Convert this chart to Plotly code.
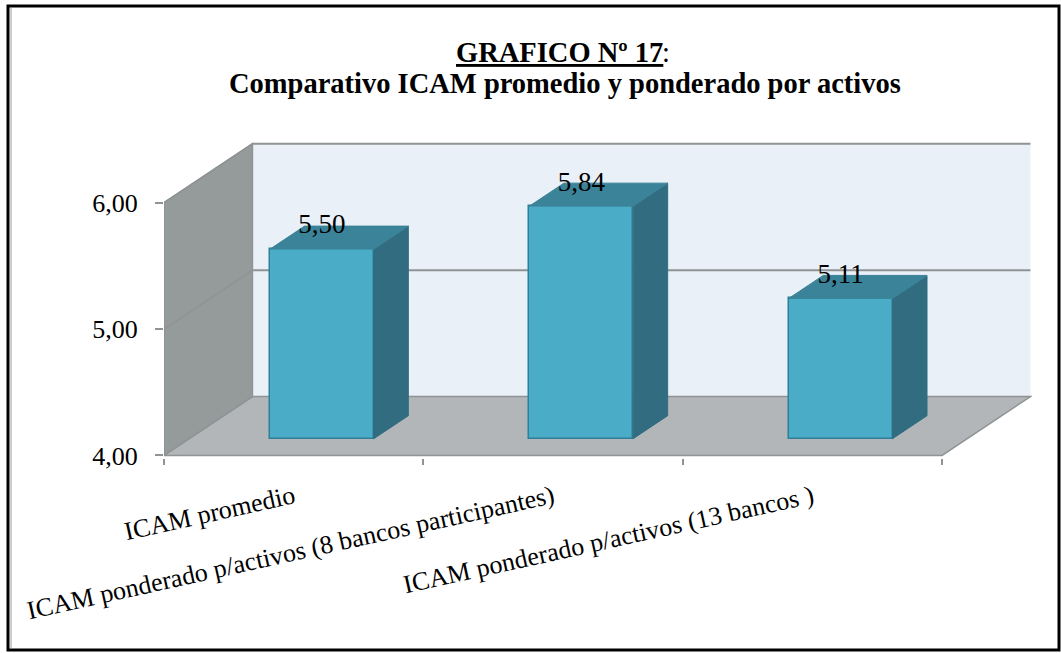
import plotly.graph_objects as go

# --- data ---
categories = ["ICAM promedio",
              "ICAM ponderado p/activos (8 bancos participantes)",
              "ICAM ponderado p/activos (13 bancos )"]
values = [5.50, 5.84, 5.11]
y_ticks = [4, 5, 6]
cat_pos = [0, 1, 2]

# --- pseudo-3D projection, in axis units ---
W, H = 1061, 653
L, R, T, B = 164, 1032, 142, 458
XR = [-0.5, 2.847]
YR = [3.98, 6.48]
Y0, Y1 = 4, 6
DX, DY = 0.341, 0.466          # full chart depth
X0, X1 = -0.5, 2.5
FX, FY = 0.32, 0.285           # depth of a bar's front face
D = 0.39                       # depth taken by a bar
BW = 0.40
LABEL_LIFT = 0.07

FONT = "Liberation Serif"
EDGE = "#8f9393"

def px(x): return (x - L) / (R - L)
def py(y): return (B - y) / (B - T)

def poly(pts):
    return "M" + " L".join(f"{a},{b}" for a, b in pts) + " Z"

shapes = [
    dict(type="path", layer="below", xref="x", yref="y", fillcolor="#e9f0f7",
         path=poly([(X0+DX, Y0+DY), (X0+DX, Y1+DY), (X1+DX, Y1+DY), (X1+DX, Y0+DY)]),
         line=dict(color="rgba(0,0,0,0)", width=0)),
    dict(type="path", layer="below", xref="x", yref="y", fillcolor="#b2b6b9",
         path=poly([(X0, Y0), (X1, Y0), (X1+DX, Y0+DY), (X0+DX, Y0+DY)]),
         line=dict(color=EDGE, width=1.5)),
    dict(type="path", layer="below", xref="x", yref="y", fillcolor="#959a9b",
         path=poly([(X0, Y0), (X0, Y1), (X0+DX, Y1+DY), (X0+DX, Y0+DY)]),
         line=dict(color=EDGE, width=1.5)),
]
for lv in [5, 6]:
    shapes.append(dict(type="line", layer="below", xref="x", yref="y",
                       x0=X0, y0=lv, x1=X0+DX, y1=lv+DY, line=dict(color=EDGE, width=1.5)))
    shapes.append(dict(type="line", layer="below", xref="x", yref="y",
                       x0=X0+DX, y0=lv+DY, x1=X1+DX, y1=lv+DY, line=dict(color=EDGE, width=2)))
# outer frame
shapes += [
    dict(type="rect", xref="paper", yref="paper", x0=px(8), x1=px(1059), y0=py(6), y1=py(650),
         line=dict(color="#000000", width=3)),
    dict(type="line", xref="paper", yref="paper", x0=px(11), x1=px(11), y0=py(8), y1=py(648),
         line=dict(color="#9a9a9a", width=1)),
]

fig = go.Figure()
bx = [c + FX*DX for c in cat_pos]
base = Y0 + FY*DY
fig.add_trace(go.Bar(x=bx, y=[v - Y0 for v in values], base=base, width=BW,
                     marker=dict(color="#4bacc8", line=dict(color="#2f7f98", width=1.5)),
                     hoverinfo="skip", showlegend=False))
for x, v in zip(bx, values):
    r = x + BW/2
    l = x - BW/2
    top = v + FY*DY
    ddx, ddy = D*DX, D*DY
    fig.add_trace(go.Scatter(x=[r, r+ddx, r+ddx, r, r], y=[base, base+ddy, top+ddy, top, base],
                             mode="lines", fill="toself", fillcolor="#316c80",
                             line=dict(color="#316c80", width=1), hoverinfo="skip", showlegend=False))
    fig.add_trace(go.Scatter(x=[l, r, r+ddx, l+ddx, l], y=[top, top, top+ddy, top+ddy, top],
                             mode="lines", fill="toself", fillcolor="#3a8398",
                             line=dict(color="#3a8398", width=1), hoverinfo="skip", showlegend=False))
fig.add_trace(go.Scatter(x=bx, y=[v + FY*DY + LABEL_LIFT for v in values], mode="text",
                         text=[f"{v:.2f}".replace(".", ",") for v in values],
                         textposition="top center",
                         textfont=dict(family=FONT, size=27, color="#000000"),
                         hoverinfo="skip", showlegend=False))

annotations = [
    dict(xref="paper", yref="paper", x=px(454), y=py(64), xanchor="left", yanchor="bottom", yshift=-6,
         showarrow=False, text="<b>GRAFICO Nº 17</b>",
         font=dict(family=FONT, size=28.5, color="#000", lineposition="under")),
    dict(xref="paper", yref="paper", x=px(660), y=py(64), xanchor="left", yanchor="bottom", yshift=-6,
         showarrow=False, text=":", font=dict(family=FONT, size=28.5, color="#000")),
    dict(xref="paper", yref="paper", x=px(565), y=py(95), xanchor="center", yanchor="bottom", yshift=-6,
         showarrow=False, text="<b>Comparativo ICAM promedio y ponderado por activos</b>",
         font=dict(family=FONT, size=28.5, color="#000")),
]

fig.update_layout(
    width=W, height=H, autosize=False,
    margin=dict(l=L, r=W-R, t=T, b=H-B, pad=0),
    paper_bgcolor="#ffffff", plot_bgcolor="rgba(0,0,0,0)",
    separators=",.", showlegend=False, shapes=shapes, annotations=annotations,
    bargap=0,
    xaxis=dict(range=XR, tickmode="array", tickvals=cat_pos, ticktext=categories,
               tickangle=-12.5, ticks="", showgrid=False, zeroline=False, showline=False,
               ticklabelstandoff=18,
               tickfont=dict(family=FONT, size=26, color="#000"),
               minor=dict(tickmode="array", tickvals=[-0.5, 0.5, 1.5, 2.5], ticks="outside",
                          ticklen=6, tickwidth=2, tickcolor=EDGE, showgrid=False)),
    yaxis=dict(range=YR, tickmode="array", tickvals=y_ticks, tickformat=".2f",
               ticks="outside", ticklen=8, tickwidth=2, tickcolor=EDGE,
               showgrid=False, zeroline=False, showline=False, ticklabelstandoff=12,
               tickfont=dict(family=FONT, size=26, color="#000")),
)
fig.write_html("out.html", config=dict(displayModeBar=False),
               post_script="document.body.style.margin='0';document.body.style.overflow='hidden';")
